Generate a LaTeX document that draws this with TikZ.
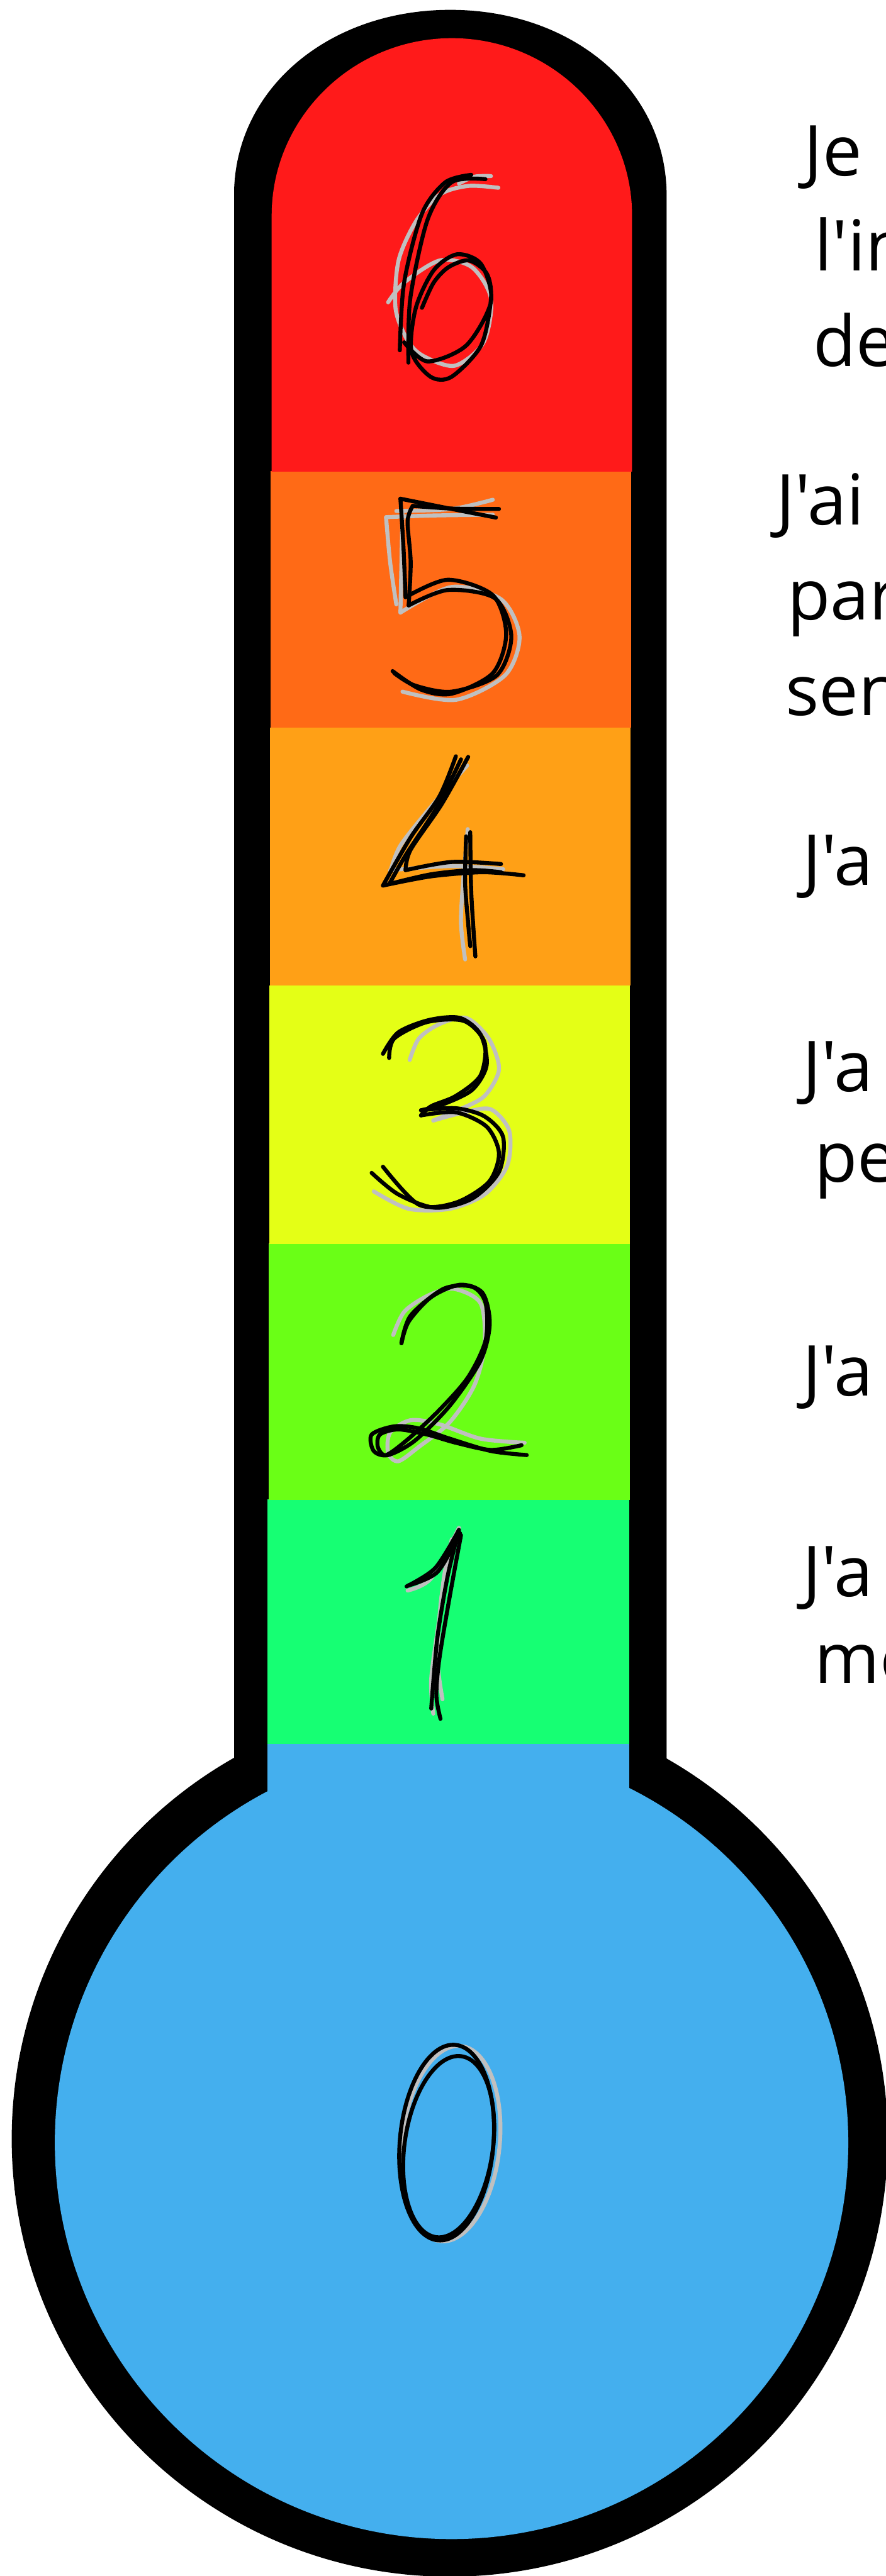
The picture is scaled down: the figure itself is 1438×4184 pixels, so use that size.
\documentclass[tikz,border=0pt]{standalone}
\usepackage{fontspec}
\setmainfont{Open Sans}[Ligatures=TeXOff]
\definecolor{cRed}{RGB}{255,26,26}
\definecolor{cOrange}{RGB}{255,106,22}
\definecolor{cAmber}{RGB}{255,160,22}
\definecolor{cYellow}{RGB}{228,255,22}
\definecolor{cGreen}{RGB}{106,255,22}
\definecolor{cMint}{RGB}{22,255,115}
\definecolor{cBlue}{RGB}{68,175,238}
\definecolor{cStroke}{RGB}{192,192,192}
\begin{document}
\begin{tikzpicture}[x=1pt,y=-1pt,
  blk/.style={line width=6.5pt, line cap=round, line join=round, draw=black},
  gry/.style={line width=6.5pt, line cap=round, line join=round, draw=cStroke},
  lbl/.style={anchor=base west, inner sep=0pt, font=\fontsize{114}{150}\selectfont}]
\useasboundingbox (0,0) rectangle (1438,4184);
\clip (0,0) rectangle (1438,4184);
% body outline
\fill[black] (380,2900) -- (380,309) .. controls (385,140) and (537,16) .. (731,16)
  .. controls (925,16) and (1077,140) .. (1082,309) -- (1082,2900) -- cycle;
\fill[black] (730,3474) circle[radius=711];
\fill[cBlue] (733,3480) circle[radius=644];
\fill[cBlue] (434,2820) rectangle (1021,2920);
% bands
\fill[cMint] (434,2435.5) rectangle (1021,2833);
\fill[cGreen] (436,2019.5) rectangle (1022,2436);
\fill[cYellow] (437,1600.5) rectangle (1023,2020);
\fill[cAmber] (438,1181.5) rectangle (1024,1601);
\fill[cOrange] (439,765.5) rectangle (1025,1182);
\fill[cRed] (441,766) -- (441,350) .. controls (441,192) and (572,62) .. (733.5,62)
  .. controls (895,62) and (1026,192) .. (1026,350) -- (1026,766) -- cycle;

% digit 6
\draw[gry] plot[smooth] coordinates {(809,305)(760,302)(714,316)(675,360)(647,423)(642,500)(660,550)(685,577)(738,594)(785,556)(797,485)(766,434)(714,423)(656,459)(630,491)};
\draw[gry] plot[smooth] coordinates {(797,286)(770,287)(745,298)};
\draw[blk] plot[smooth] coordinates {(765,284)(723,296)(685,347)(656,459)(649,569)};
\draw[blk] plot[smooth] coordinates {(788,291)(733,296)(694,357)(666,485)(663,589)};
\draw[blk] plot[smooth] coordinates {(656,556)(694,587)(757,561)(797,490)(781,429)(742,413)(704,439)(675,500)(668,571)(699,612)(733,612)(781,561)(797,485)(790,444)(761,423)(728,434)(704,459)(685,500)};

% digit 5
\begin{scope}[shift={(600,780)}, scale=1/3]
\draw[gry] plot[smooth] coordinates {(80,180)(300,172)(600,168)};
\draw[gry] plot[smooth] coordinates {(130,150)(400,140)(600,95)};
\draw[gry] plot[smooth] coordinates {(80,180)(100,400)(130,605)};
\draw[gry] plot[smooth] coordinates {(160,150)(155,400)(150,645)};
\draw[gry] plot[smooth] coordinates {(150,645)(400,520)(640,580)(730,760)(660,950)(420,1070)(160,1030)};
\draw[blk] plot[smooth] coordinates {(150,90)(400,140)(615,182)};
\draw[blk] plot[smooth] coordinates {(210,125)(400,138)(630,140)};
\draw[blk] plot[smooth] coordinates {(150,90)(165,330)(175,570)};
\draw[blk] plot[smooth] coordinates {(175,570)(380,485)(600,560)(665,750)(600,940)(400,1040)(250,1020)(112,930)};
\draw[blk] plot[smooth] coordinates {(210,125)(185,200)(200,400)(190,610)};
\draw[blk] plot[smooth] coordinates {(190,610)(380,535)(610,575)(690,760)(620,950)(400,1030)(220,1000)(120,940)};
\end{scope}

% digit 4
\begin{scope}[shift={(600,1200)}, scale=1/3]
\draw[gry] plot[smooth] coordinates {(475,130)(300,330)(150,520)(100,650)};
\draw[gry] plot[smooth] coordinates {(100,640)(400,620)(650,635)};
\draw[gry] plot[smooth] coordinates {(478,440)(455,700)(445,900)(465,1075)};
\draw[blk] plot[smooth] coordinates {(420,85)(340,280)(200,480)(65,715)};
\draw[blk] plot[smooth] coordinates {(445,100)(330,330)(180,560)(100,700)};
\draw[blk] plot[smooth] coordinates {(480,88)(350,320)(200,540)(175,640)};
\draw[blk] plot[smooth] coordinates {(175,640)(400,600)(640,610)};
\draw[blk] plot[smooth] coordinates {(65,715)(300,670)(550,650)(750,665)};
\draw[blk] plot[smooth] coordinates {(105,705)(300,660)(500,640)(640,650)};
\draw[blk] plot[smooth] coordinates {(470,475)(465,700)(480,900)(490,1010)};
\draw[blk] plot[smooth] coordinates {(490,455)(495,750)(515,1060)};
\end{scope}

% digit 3
\begin{scope}[shift={(580,1620)}, scale=1/3]
\draw[gry] plot[smooth] coordinates {(255,305)(300,200)(400,130)(530,100)(640,200)(690,350)(620,480)(500,545)(370,600)};
\draw[gry] plot[smooth] coordinates {(370,600)(520,560)(650,545)(740,650)(730,820)(620,960)(450,1030)(250,1030)(80,945)};
\draw[blk] plot[smooth] coordinates {(125,275)(200,170)(350,110)(500,100)(600,180)(630,330)(560,450)(420,520)(310,550)};
\draw[blk] plot[smooth] coordinates {(155,295)(180,200)(340,120)(520,115)(620,220)(600,380)(480,480)(360,530)(310,575)};
\draw[blk] plot[smooth] coordinates {(310,550)(480,540)(620,580)(710,680)(690,850)(560,980)(380,1025)(200,960)(70,855)};
\draw[blk] plot[smooth] coordinates {(310,575)(480,560)(630,630)(690,760)(640,900)(480,1000)(300,1010)(125,825)};
\end{scope}

% digit 2
\begin{scope}[shift={(580,2050)}, scale=1/3]
\draw[gry] plot[smooth] coordinates {(175,355)(230,240)(350,160)(470,130)(600,200)(620,400)(570,600)(450,780)(300,900)(200,970)(150,930)(160,830)(260,770)(400,790)(600,860)(815,880)};
\draw[blk] plot[smooth] coordinates {(215,395)(250,290)(360,170)(500,110)(610,150)(645,300)(600,480)(450,700)(280,870)(150,940)(80,920)(70,840)(180,800)(300,810)(450,860)(650,920)(825,940)};
\draw[blk] plot[smooth] coordinates {(215,395)(260,260)(420,130)(560,120)(625,200)(625,380)(540,560)(400,720)(250,860)(140,940)(100,900)(110,840)(200,815)(340,840)(480,880)(650,915)(800,892)};
\end{scope}

% digit 1
\begin{scope}[shift={(600,2460)}, scale=1/3]
\draw[gry] plot[smooth] coordinates {(185,370)(300,310)(435,65)};
\draw[gry] plot[smooth] coordinates {(435,65)(370,260)(340,500)(300,800)(310,970)};
\draw[gry] plot[smooth] coordinates {(400,120)(350,400)(330,700)(355,900)};
\draw[blk] plot[smooth] coordinates {(180,350)(320,260)(435,75)};
\draw[blk] plot[smooth] coordinates {(190,345)(330,280)(440,90)};
\draw[blk] plot[smooth] coordinates {(435,75)(380,300)(330,600)(300,945)};
\draw[blk] plot[smooth] coordinates {(445,100)(390,400)(340,700)(325,880)(345,995)};
\end{scope}

% digit 0
\begin{scope}[shift={(600,3290)}, scale=1/3]
\draw[gry, rotate around={-6:(395,575)}] (395,575) ellipse[x radius=238, y radius=478];
\draw[blk, rotate around={-5:(375,570)}] (375,570) ellipse[x radius=228, y radius=478];
\draw[blk, rotate around={-8:(385,590)}] (385,590) ellipse[x radius=215, y radius=445];
\end{scope}

% labels
\node[lbl] (t6a) at (1305,285) {Je};
\node[lbl] (t6b) at (1322,440) {l'in};
\node[lbl] (t6c) at (1320,595) {de};
\node[lbl] (t5a) at (1260,852) {J'ai};
\node[lbl] (t5b) at (1278,1007) {par};
\node[lbl] (t5c) at (1275,1162) {sen};
\node[lbl] (t4a) at (1303,1438) {J'a};
\node[lbl] (t3a) at (1303,1773) {J'a};
\node[lbl] (t3b) at (1322,1920) {pe};
\node[lbl] (t2a) at (1303,2267) {J'a};
\node[lbl] (t1a) at (1303,2593) {J'a};
\node[lbl] (t1b) at (1322,2734) {me};
\end{tikzpicture}
\end{document}
